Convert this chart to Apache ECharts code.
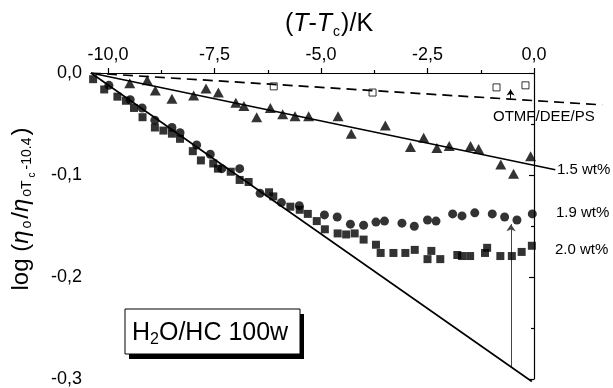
<!DOCTYPE html>
<html>
<head>
<meta charset="utf-8">
<script src="https://cdn.jsdelivr.net/npm/echarts@6/dist/echarts.min.js"></script>
<style>
html, body { margin: 0; padding: 0; background: #fff; }
#chart { width: 613px; height: 388px; }
</style>
</head>
<body>
<div id="chart"></div>
<script>
// ticks of the (T-Tc)/K axis
const xTicks = [-10, -7.5, -5, -2.5, 0];
const xMinorTicks = [-8.75, -6.25, -3.75, -1.25];

// OTMF/DEE/PS, open squares
const otmf = [[-6.11, -0.013], [-3.79, -0.019], [-0.88, -0.014], [-0.20, -0.012]];

// 1.5 wt%, triangles
const wt15 = [
  [-9.49, -0.010], [-9.08, -0.007], [-8.89, -0.017], [-8.50, -0.025], [-7.99, -0.022],
  [-7.70, -0.015], [-7.41, -0.019], [-7.00, -0.029], [-6.81, -0.032], [-6.51, -0.043],
  [-6.19, -0.034], [-5.90, -0.040], [-5.61, -0.042], [-5.29, -0.042], [-4.60, -0.042],
  [-4.29, -0.059], [-3.49, -0.051], [-2.90, -0.072], [-2.59, -0.063], [-2.28, -0.073],
  [-1.99, -0.071], [-1.49, -0.071], [-1.30, -0.074], [-0.78, -0.089], [-0.48, -0.098],
  [-0.08, -0.081]
];

// 1.9 wt%, circles
const wt19 = [
  [-9.98, -0.012], [-9.48, -0.026], [-9.20, -0.034], [-8.90, -0.046], [-8.50, -0.053],
  [-8.31, -0.058], [-7.92, -0.070], [-7.60, -0.079], [-7.33, -0.093], [-6.91, -0.093],
  [-6.43, -0.117], [-5.93, -0.126], [-5.51, -0.129], [-4.92, -0.138], [-4.62, -0.140],
  [-4.31, -0.147], [-4.00, -0.148], [-3.71, -0.145], [-3.51, -0.144], [-3.10, -0.146],
  [-2.81, -0.149], [-2.50, -0.143], [-2.30, -0.144], [-1.91, -0.137], [-1.69, -0.139],
  [-1.39, -0.136], [-0.98, -0.137], [-0.69, -0.140], [-0.40, -0.143], [-0.04, -0.137]
];

// 2.0 wt%, filled squares
const wt20 = [
  [-10.35, -0.006], [-10.09, -0.016], [-9.78, -0.023], [-9.58, -0.027], [-9.39, -0.034],
  [-9.19, -0.043], [-8.90, -0.053], [-8.70, -0.056], [-8.50, -0.059], [-8.31, -0.064],
  [-8.01, -0.076], [-7.82, -0.085], [-7.53, -0.088], [-7.42, -0.093], [-7.12, -0.096],
  [-6.91, -0.104], [-6.70, -0.106], [-6.22, -0.116], [-6.12, -0.120], [-5.72, -0.130],
  [-5.50, -0.133], [-5.31, -0.137], [-5.10, -0.144], [-4.91, -0.152], [-4.61, -0.156],
  [-4.41, -0.157], [-4.21, -0.156], [-4.00, -0.162], [-3.71, -0.167], [-3.60, -0.175],
  [-3.30, -0.175], [-3.02, -0.175], [-2.80, -0.172], [-2.50, -0.181], [-2.41, -0.173],
  [-2.20, -0.181], [-1.80, -0.177], [-1.69, -0.178], [-1.50, -0.178], [-1.15, -0.175],
  [-1.10, -0.170], [-0.79, -0.178], [-0.52, -0.178], [-0.29, -0.174], [-0.05, -0.168]
];

// straight lines through the data
const fitOtmf = [[-10.4, 0], [1.6, -0.031]];
const fit15 = [[-10.4, 0], [0.5, -0.094]];
const fitSteep = [[-10.4, 0], [-0.05, -0.30]];

// arrows
const arrowBig = [[-0.54, -0.286], [-0.54, -0.147]];
const arrowSmall = [[-0.55, -0.025], [-0.55, -0.016]];

const FONT = 'Liberation Sans, Arial, sans-serif';
const fmt = v => v.toFixed(1).replace('.', ',');

const X_MIN = -10.4, X_MAX = 0, X_DATA_MAX = 1.7;
const PLOT_W = 443;
const pxPerK = PLOT_W / (X_MAX - X_MIN);

let chart = echarts.init(document.getElementById('chart'));

chart.setOption({
  animation: false,
  grid: [
    // the visible frame, -10.4 .. 0
    { left: 91, top: 73, width: PLOT_W, height: 308.5 },
    // same scale, wider, so the lines can run past 0
    { left: 91, top: 73, width: pxPerK * (X_DATA_MAX - X_MIN), height: 308.5 }
  ],
  xAxis: [{
    type: 'value',
    gridIndex: 0,
    position: 'top',
    min: X_MIN,
    max: X_MAX,
    axisLine: { show: true, lineStyle: { color: '#000', width: 1.2 } },
    axisTick: { show: true, length: 5, customValues: xTicks, lineStyle: { color: '#000', width: 1.2 } },
    axisLabel: { customValues: xTicks, formatter: fmt, color: '#000', fontSize: 18, fontFamily: FONT, margin: 9 },
    splitLine: { show: false },
    name: '{p|(}{i|T}{p|-}{i|T}{s|c}{p|)/K}',
    nameLocation: 'middle',
    nameGap: 34,
    nameTextStyle: {
      padding: [0, 0, 0, 33],
      rich: {
        p: { fontSize: 25, fontFamily: FONT, color: '#000' },
        i: { fontSize: 25, fontFamily: FONT, fontStyle: 'italic', color: '#000' },
        s: { fontSize: 14, fontFamily: FONT, color: '#000', padding: [15, 1, 0, 1] }
      }
    }
  }, {
    type: 'value',
    gridIndex: 0,
    position: 'top',
    min: X_MIN,
    max: X_MAX,
    axisLine: { show: false },
    axisTick: { show: true, length: 3, customValues: xMinorTicks, lineStyle: { color: '#000', width: 1.2 } },
    axisLabel: { show: false },
    splitLine: { show: false }
  }, {
    type: 'value',
    gridIndex: 1,
    min: X_MIN,
    max: X_DATA_MAX,
    show: false
  }],
  yAxis: [{
    type: 'value',
    gridIndex: 0,
    min: -0.3,
    max: 0,
    interval: 0.1,
    axisLine: { show: true, lineStyle: { color: '#000', width: 1.2 } },
    axisTick: { show: true, length: 5, lineStyle: { color: '#000', width: 1.2 } },
    minorTick: { show: true, splitNumber: 2, length: 3, lineStyle: { color: '#000', width: 1.2 } },
    axisLabel: { formatter: fmt, color: '#000', fontSize: 18, fontFamily: FONT, margin: 9 },
    splitLine: { show: false },
    name: '{p|log (}{g|η}{s|o}{p|/}{g|η}{s|oT}{ss|c}{s|-10.4}{p|)}',
    nameLocation: 'middle',
    nameRotate: 90,
    nameGap: 54,
    nameTextStyle: {
      padding: [0, 0, 0, 34],
      rich: {
        p: { fontSize: 24, fontFamily: FONT, color: '#000' },
        g: { fontSize: 24, fontFamily: FONT, fontStyle: 'italic', color: '#000' },
        s: { fontSize: 14, fontFamily: FONT, color: '#000', padding: [12, 2, 0, 2] },
        ss: { fontSize: 10, fontFamily: FONT, color: '#000', padding: [21, 1, 0, 1] }
      }
    }
  }, {
    type: 'value',
    gridIndex: 1,
    min: -0.3,
    max: 0,
    show: false
  }],
  series: [
    {
      type: 'line', xAxisIndex: 2, yAxisIndex: 1, data: fitOtmf, showSymbol: false, silent: true,
      lineStyle: { color: '#000', width: 1.7, type: [10, 6] }
    },
    {
      type: 'line', xAxisIndex: 2, yAxisIndex: 1, data: fit15, showSymbol: false, silent: true,
      lineStyle: { color: '#000', width: 1.6 }
    },
    {
      type: 'line', xAxisIndex: 2, yAxisIndex: 1, data: fitSteep, showSymbol: false, silent: true,
      lineStyle: { color: '#000', width: 1.6 }
    },
    {
      type: 'lines', coordinateSystem: 'cartesian2d', xAxisIndex: 2, yAxisIndex: 1, silent: true,
      data: [{ coords: arrowBig }],
      symbol: ['none', 'arrow'], symbolSize: 7,
      lineStyle: { color: '#444', width: 1, opacity: 1 }
    },
    {
      type: 'lines', coordinateSystem: 'cartesian2d', xAxisIndex: 2, yAxisIndex: 1, silent: true,
      data: [{ coords: arrowSmall }],
      symbol: ['none', 'arrow'], symbolSize: 6,
      lineStyle: { color: '#000', width: 1, opacity: 1 }
    },
    {
      type: 'scatter', xAxisIndex: 2, yAxisIndex: 1, data: otmf, symbol: 'rect', symbolSize: 7, silent: true,
      itemStyle: { color: '#fff', borderColor: '#000', borderWidth: 1 }
    },
    {
      type: 'scatter', xAxisIndex: 2, yAxisIndex: 1, data: wt15, symbol: 'triangle', symbolSize: [11, 10], silent: true,
      itemStyle: { color: '#000' }
    },
    {
      type: 'scatter', xAxisIndex: 2, yAxisIndex: 1, data: wt19, symbol: 'circle', symbolSize: 9, silent: true,
      itemStyle: { color: '#000' }
    },
    {
      type: 'scatter', xAxisIndex: 2, yAxisIndex: 1, data: wt20, symbol: 'rect', symbolSize: 8, silent: true,
      itemStyle: { color: '#000' }
    }
  ],
  graphic: [
    { type: 'rect', shape: { x: 129, y: 314, width: 175, height: 45 }, style: { fill: '#000' } },
    { type: 'rect', shape: { x: 125, y: 309, width: 175, height: 45 }, style: { fill: '#fff', stroke: '#000', lineWidth: 1 } },
    {
      type: 'text', x: 132, y: 333,
      style: {
        text: '{n|H}{s|2}{n|O/HC 100w}',
        verticalAlign: 'middle',
        rich: {
          n: { fontSize: 25, fontFamily: FONT, fill: '#000' },
          s: { fontSize: 16, fontFamily: FONT, fill: '#000', padding: [14, 0, 0, 0] }
        }
      }
    },
    { type: 'text', x: 493, y: 117, style: { text: 'OTMF/DEE/PS', font: '15px ' + FONT, fill: '#000', verticalAlign: 'middle' } },
    { type: 'text', x: 557, y: 170, style: { text: '1.5 wt%', font: '15px ' + FONT, fill: '#000', verticalAlign: 'middle' } },
    { type: 'text', x: 556, y: 213, style: { text: '1.9 wt%', font: '15px ' + FONT, fill: '#000', verticalAlign: 'middle' } },
    { type: 'text', x: 555, y: 250, style: { text: '2.0 wt%', font: '15px ' + FONT, fill: '#000', verticalAlign: 'middle' } }
  ]
});
</script>
</body>
</html>
